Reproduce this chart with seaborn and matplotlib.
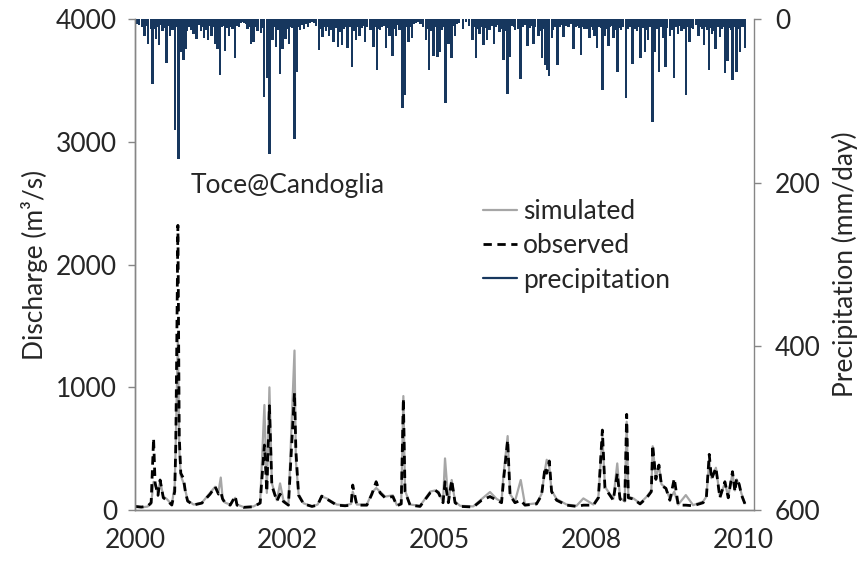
import pandas as pd
import numpy as np
import matplotlib
matplotlib.use('Agg')
import matplotlib.pyplot as plt
import seaborn as sns

# Toce@Candoglia, 2000-2010: simulated/observed discharge and daily precipitation
start = pd.Timestamp('2000-01-01')

# discharge series (days since 2000-01-01, m3/s)
q_days = [0, 40, 80, 105, 121, 131, 150, 164, 185, 208, 241, 260, 267, 281, 290, 300,
          318, 330, 345, 384, 439, 493, 526, 548, 563, 575, 592, 625, 658, 670, 713, 779,
          822, 850, 866, 883, 899, 932, 953, 975, 1008, 1048, 1057, 1075, 1108, 1163, 1200,
          1227, 1260, 1326, 1381, 1420, 1431, 1458, 1524, 1557, 1585, 1611, 1644, 1695, 1721,
          1750, 1764, 1775, 1808, 1874, 1940, 1973, 1995, 2025, 2038, 2060, 2082, 2104, 2137,
          2224, 2279, 2334, 2378, 2410, 2422, 2450, 2466, 2498, 2536, 2564, 2640, 2673, 2696,
          2707, 2724, 2739, 2772, 2838, 2903, 2948, 3014, 3047, 3073, 3090, 3123, 3145, 3171,
          3189, 3220, 3233, 3244, 3277, 3321, 3365, 3395, 3404, 3425, 3445, 3462, 3491, 3517,
          3546, 3572, 3622, 3670, 3736, 3757, 3776, 3791, 3820, 3846, 3879, 3901, 3929, 3945,
          3956, 3973, 3989, 4011]
q_obs = [30, 25, 30, 60, 584, 220, 120, 245, 100, 81, 41, 150, 516, 2320, 600, 300,
         258, 150, 73, 41, 57, 130, 190, 130, 150, 90, 57, 40, 114, 40, 22, 27,
         57, 530, 150, 850, 200, 73, 130, 70, 40, 956, 489, 120, 50, 30, 40,
         114, 90, 40, 35, 40, 204, 40, 40, 130, 231, 140, 100, 110, 35,
         50, 910, 150, 40, 30, 140, 163, 140, 60, 231, 60, 245, 60, 30,
         25, 80, 110, 80, 60, 231, 570, 120, 60, 80, 40, 50, 120, 350,
         300, 400, 150, 80, 40, 30, 40, 40, 100, 652, 180, 120, 80, 299,
         90, 60, 780, 100, 90, 50, 100, 150, 530, 250, 367, 200, 177, 80,
         258, 40, 40, 35, 60, 100, 454, 250, 345, 100, 231, 100, 313, 150,
         258, 210, 120, 50]
q_sim = [25, 22, 28, 50, 230, 220, 130, 240, 110, 90, 45, 200, 557, 1400, 500, 280,
         220, 160, 80, 45, 60, 140, 190, 150, 265, 100, 60, 45, 100, 45, 25, 30,
         60, 856, 140, 1000, 220, 80, 217, 80, 45, 1300, 400, 130, 55, 30, 45,
         110, 95, 45, 40, 50, 150, 45, 45, 140, 180, 150, 110, 120, 40,
         60, 929, 160, 45, 35, 150, 160, 150, 70, 421, 70, 245, 70, 35,
         30, 90, 147, 90, 70, 280, 603, 130, 70, 245, 45, 55, 130, 330,
         410, 350, 160, 90, 45, 35, 95, 45, 110, 600, 190, 130, 90, 380,
         100, 70, 720, 110, 95, 55, 110, 160, 520, 260, 367, 210, 180, 90,
         150, 45, 122, 40, 70, 110, 400, 260, 345, 110, 220, 110, 300, 160,
         250, 200, 130, 55]

# precipitation, main rain days (days since 2000-01-01, mm/day)
p_days = [26, 60, 85, 103, 114, 136, 158, 180, 206, 230, 245, 263, 285, 300, 318, 335,
          350, 366, 385, 403, 432, 454, 480, 502, 524, 541, 559, 590, 618, 640, 658, 684,
          717, 740, 761, 778, 809, 826, 848, 866, 883, 903, 925, 951, 970, 990, 1013, 1048,
          1063, 1083, 1112, 1138, 1177, 1210, 1232, 1254, 1276, 1304, 1335, 1348, 1359, 1396,
          1427, 1453, 1475, 1510, 1545, 1567, 1589, 1611, 1650, 1672, 1692, 1716, 1738, 1758,
          1775, 1797, 1819, 1845, 1913, 1933, 1962, 1988, 2006, 2041, 2061, 2080, 2102, 2157,
          2220, 2240, 2264, 2290, 2316, 2360, 2396, 2422, 2450, 2465, 2500, 2534, 2580, 2619,
          2654, 2676, 2695, 2707, 2722, 2740, 2777, 2816, 2849, 2882, 2933, 2955, 2988, 3020,
          3036, 3073, 3091, 3113, 3146, 3174, 3196, 3228, 3270, 3288, 3325, 3353, 3375, 3404,
          3420, 3447, 3473, 3489, 3517, 3546, 3572, 3594, 3623, 3645, 3671, 3704, 3741, 3776,
          3796, 3818, 3846, 3879, 3896, 3929, 3956, 3978, 4011]
p_mm = [7, 20, 30, 12, 79, 24, 32, 15, 54, 20, 13, 135, 171, 40, 50, 36,
        10, 13, 18, 24, 15, 23, 26, 20, 30, 36, 68, 39, 20, 12, 48, 10,
        5, 12, 30, 28, 15, 17, 95, 72, 165, 26, 34, 67, 36, 24, 30, 146,
        64, 13, 12, 10, 5, 38, 22, 15, 20, 28, 34, 16, 32, 35,
        58, 26, 20, 28, 13, 34, 62, 13, 35, 20, 45, 20, 13, 109,
        93, 28, 23, 5, 26, 62, 45, 46, 40, 102, 30, 48, 20, 12,
        26, 47, 18, 32, 26, 30, 16, 50, 92, 46, 13, 73, 33, 30,
        20, 48, 56, 62, 70, 23, 56, 22, 10, 36, 44, 12, 23, 20,
        35, 87, 20, 33, 23, 64, 13, 96, 55, 12, 47, 40, 26, 126,
        40, 64, 23, 59, 20, 72, 18, 14, 93, 28, 12, 20, 32, 62,
        18, 36, 22, 66, 51, 74, 64, 40, 35]

# light rain days filling the band along the top
light_days = [10, 45, 70, 125, 148, 170, 195, 218, 255, 275,
              310, 328, 342, 358, 375, 395, 418, 445, 468, 492,
              513, 533, 550, 570, 580, 600, 630, 648, 670, 695,
              705, 728, 750, 770, 790, 800, 838, 875, 893, 915,
              938, 960, 980, 1000, 1025, 1035, 1072, 1095, 1125, 1150,
              1165, 1190, 1220, 1243, 1265, 1290, 1318, 1370, 1385, 1410,
              1440, 1465, 1490, 1500, 1525, 1555, 1578, 1600, 1625, 1640,
              1660, 1682, 1705, 1728, 1786, 1808, 1830, 1860, 1878, 1895,
              1923, 1948, 1975, 1998, 2020, 2030, 2050, 2070, 2090, 2115,
              2130, 2175, 2195, 2230, 2252, 2278, 2303, 2330, 2345, 2375,
              2386, 2410, 2435, 2478, 2490, 2518, 2548, 2560, 2595, 2608,
              2630, 2665, 2685, 2750, 2765, 2790, 2805, 2830, 2865, 2895,
              2910, 2922, 2945, 2970, 3000, 3010, 3052, 3063, 3102, 3125,
              3135, 3160, 3185, 3208, 3240, 3255, 3300, 3313, 3340, 3365,
              3388, 3435, 3460, 3500, 3530, 3560, 3583, 3608, 3635, 3660,
              3688, 3715, 3730, 3755, 3765, 3785, 3808, 3832, 3860, 3870,
              3908, 3918, 3940, 3967, 3995, 4005]
light_mm = [6, 10, 8, 12, 9, 7, 11, 8, 10, 9,
            12, 8, 14, 6, 9, 11, 7, 10, 13, 8,
            9, 12, 15, 10, 8, 11, 9, 6, 8, 5,
            4, 6, 9, 12, 10, 14, 11, 15, 12, 9,
            13, 10, 8, 12, 9, 11, 10, 7, 6, 5,
            4, 8, 12, 10, 9, 13, 11, 12, 9, 10,
            14, 9, 11, 8, 10, 13, 9, 12, 10, 8,
            11, 9, 12, 7, 10, 9, 6, 4, 6, 9,
            12, 14, 10, 11, 13, 9, 12, 10, 8, 6,
            5, 4, 8, 10, 12, 9, 11, 13, 8, 10,
            7, 12, 14, 8, 10, 12, 9, 7, 11, 8,
            10, 14, 12, 13, 10, 9, 7, 8, 6, 10,
            8, 11, 9, 12, 10, 13, 9, 11, 12, 10,
            8, 13, 11, 9, 12, 10, 14, 9, 11, 13,
            10, 12, 9, 11, 13, 10, 8, 12, 9, 11,
            7, 10, 12, 9, 13, 11, 14, 10, 12, 9,
            11, 13, 10, 12, 9, 8]

x_tick_days = [0, 1000, 2000, 3000, 4000]
x_tick_labels = ['2000', '2002', '2005', '2008', '2010']
left_ticks = [0, 1000, 2000, 3000, 4000]
right_ticks = [0, 200, 400, 600]

df_q = pd.DataFrame({
    'date': start + pd.to_timedelta(q_days, unit='D'),
    'simulated': q_sim,
    'observed': q_obs,
})
df_p = pd.DataFrame({
    'date': start + pd.to_timedelta(p_days + light_days, unit='D'),
    'precipitation': p_mm + light_mm,
})

sns.set_style('white')
plt.rcParams['font.family'] = ['Lato', 'DejaVu Sans']
grey = '#868686'
navy = '#17375E'

fig, ax = plt.subplots(figsize=(8.61, 5.63), dpi=100)
fig.subplots_adjust(left=0.157, right=0.876, top=0.966, bottom=0.094)

sns.lineplot(data=df_q, x='date', y='simulated', ax=ax, color='#A6A6A6',
             linewidth=1.6, label='simulated', legend=False)
sns.lineplot(data=df_q, x='date', y='observed', ax=ax, color='black',
             linewidth=2.0, label='observed', legend=False)
ax.lines[-1].set_dashes([3, 2])

ax2 = ax.twinx()
ax2.bar(df_p['date'], df_p['precipitation'], width=16, color=navy, linewidth=0)
ax2.plot([], [], color=navy, linewidth=1.6, label='precipitation')

x_end = start + pd.Timedelta(days=4072)
ax.set_xlim(start, x_end)
ax.set_ylim(0, 4000)
ax2.set_ylim(600, 0)

ax.set_xticks(start + pd.to_timedelta(x_tick_days, unit='D'))
ax.set_xticklabels(x_tick_labels)
ax.set_yticks(left_ticks)
ax2.set_yticks(right_ticks)

fs = 19
ax.set_ylabel('Discharge (m³/s)', fontsize=fs, labelpad=6)
ax2.set_ylabel('Precipitation (mm/day)', fontsize=fs, labelpad=8)
ax.set_xlabel('')

for a in (ax, ax2):
    a.tick_params(labelsize=fs, length=5, width=1, color=grey, direction='out')
    for s in a.spines.values():
        s.set_color(grey)
        s.set_linewidth(1)
    a.spines['top'].set_visible(False)
ax.tick_params(axis='both', pad=8)
ax2.tick_params(axis='y', pad=10)
ax.spines['right'].set_visible(False)

ax.text(0.089, 0.662, 'Toce@Candoglia', transform=ax.transAxes, fontsize=fs,
        va='center', ha='left')

handles = ax.lines[:2] + ax2.lines[:1]
labels = ['simulated', 'observed', 'precipitation']
ax2.legend(handles, labels, loc='upper left', bbox_to_anchor=(0.545, 0.655),
           frameon=False, fontsize=fs, handlelength=1.3, handletextpad=0.2,
           labelspacing=0.35, borderaxespad=0)

fig.savefig('out.png', dpi=100)
